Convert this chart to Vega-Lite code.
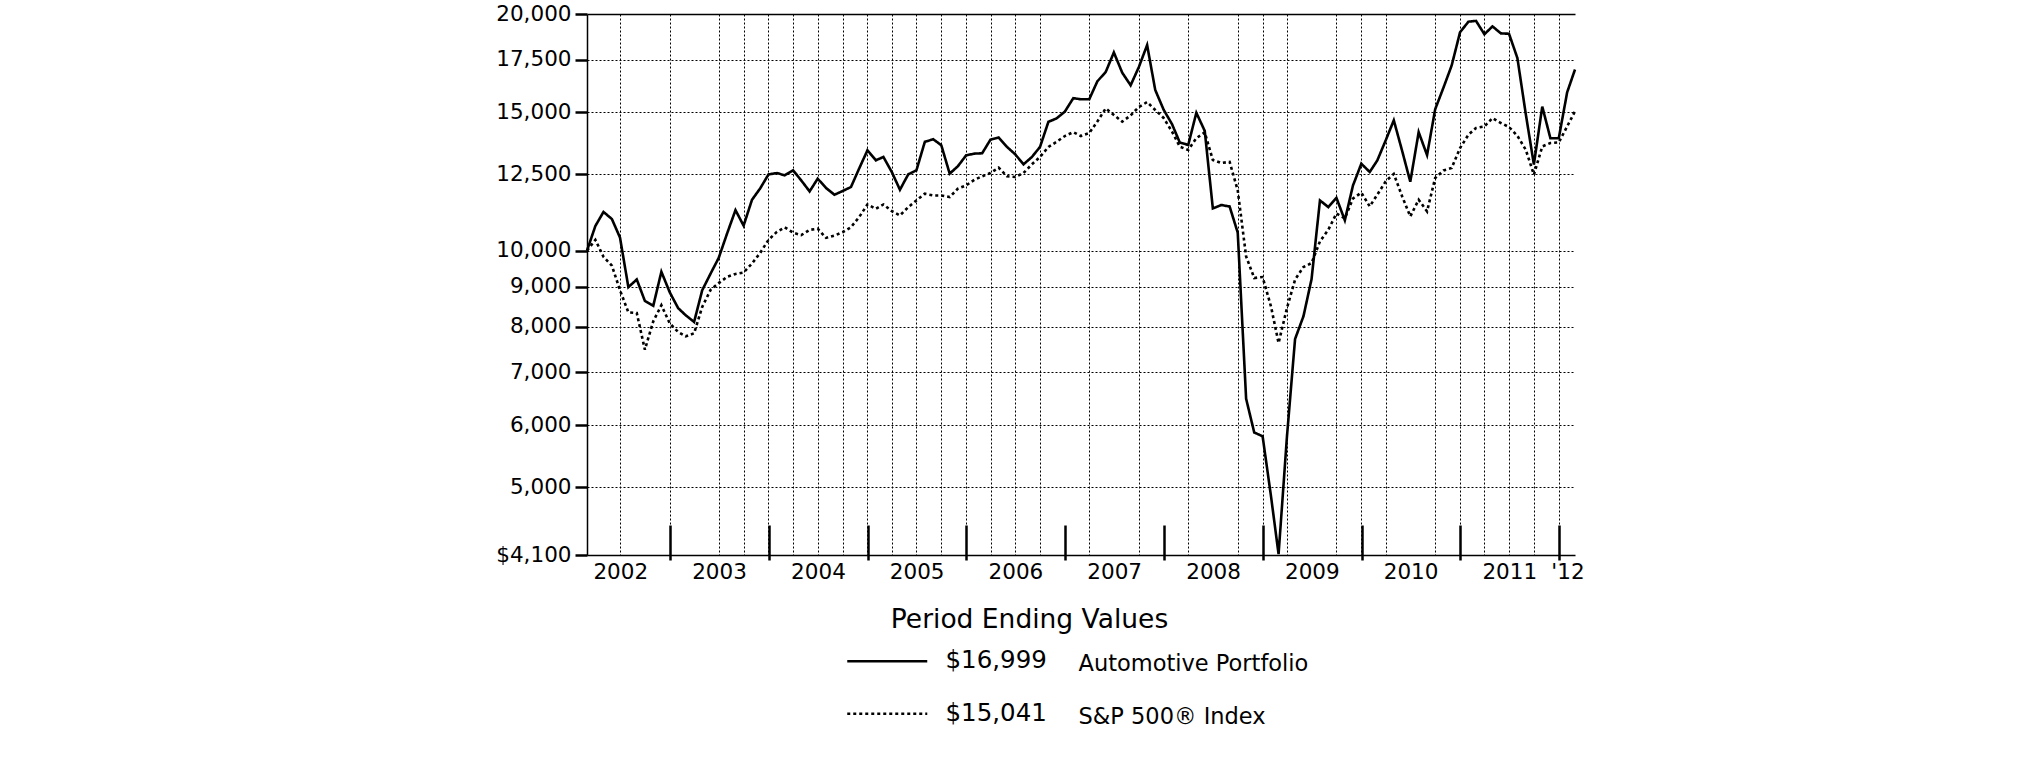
{
  "$schema": "https://vega.github.io/schema/vega-lite/v6.json",
  "width": 988,
  "height": 541,
  "autosize": {"type": "none"},
  "padding": {"left": 587, "top": 14, "right": 450, "bottom": 206},
  "background": "white",
  "config": {"view": {"stroke": null}, "font": "DejaVu Sans"},
  "data": {"values": [
    {"d":"2002-02-28","a":10000,"s":10000},{"d":"2002-03-31","a":10750,"s":10320},{"d":"2002-04-30","a":11200,"s":9820},{"d":"2002-05-31","a":10970,"s":9570},{"d":"2002-06-30","a":10390,"s":8905},
    {"d":"2002-07-31","a":8985,"s":8345},{"d":"2002-08-31","a":9190,"s":8330},{"d":"2002-09-30","a":8630,"s":7480},{"d":"2002-10-31","a":8508,"s":8130},{"d":"2002-11-30","a":9400,"s":8520},
    {"d":"2002-12-31","a":8850,"s":8080},{"d":"2003-01-31","a":8450,"s":7880},{"d":"2003-02-28","a":8275,"s":7780},{"d":"2003-03-31","a":8115,"s":7850},{"d":"2003-04-30","a":8905,"s":8480},
    {"d":"2003-05-31","a":9350,"s":8915},{"d":"2003-06-30","a":9790,"s":9092},{"d":"2003-07-31","a":10515,"s":9260},{"d":"2003-08-31","a":11260,"s":9340},{"d":"2003-09-30","a":10760,"s":9380},
    {"d":"2003-10-31","a":11605,"s":9630},{"d":"2003-11-30","a":11995,"s":9930},{"d":"2003-12-31","a":12500,"s":10320},{"d":"2004-01-31","a":12553,"s":10565},{"d":"2004-02-29","a":12467,"s":10707},
    {"d":"2004-03-31","a":12652,"s":10540},{"d":"2004-04-30","a":12285,"s":10464},{"d":"2004-05-31","a":11895,"s":10627},{"d":"2004-06-30","a":12346,"s":10663},{"d":"2004-07-31","a":12012,"s":10380},
    {"d":"2004-08-31","a":11779,"s":10451},{"d":"2004-09-30","a":11907,"s":10554},{"d":"2004-10-31","a":12048,"s":10711},{"d":"2004-11-30","a":12714,"s":11031},{"d":"2004-12-31","a":13418,"s":11448},
    {"d":"2005-01-31","a":13029,"s":11304},{"d":"2005-02-28","a":13157,"s":11448},{"d":"2005-03-31","a":12590,"s":11227},{"d":"2005-04-30","a":11953,"s":11085},{"d":"2005-05-31","a":12505,"s":11359},
    {"d":"2005-06-30","a":12652,"s":11584},{"d":"2005-07-31","a":13751,"s":11813},{"d":"2005-08-31","a":13859,"s":11755},{"d":"2005-09-30","a":13617,"s":11755},{"d":"2005-10-31","a":12529,"s":11698},
    {"d":"2005-11-30","a":12801,"s":11989},{"d":"2005-12-31","a":13222,"s":12107},{"d":"2006-01-31","a":13287,"s":12310},{"d":"2006-02-28","a":13300,"s":12431},{"d":"2006-03-31","a":13845,"s":12553},
    {"d":"2006-04-30","a":13927,"s":12751},{"d":"2006-05-31","a":13550,"s":12431},{"d":"2006-06-30","a":13262,"s":12406},{"d":"2006-07-31","a":12876,"s":12553},{"d":"2006-08-31","a":13157,"s":12876},
    {"d":"2006-09-30","a":13550,"s":13157},{"d":"2006-10-31","a":14584,"s":13550},{"d":"2006-11-30","a":14728,"s":13751},{"d":"2006-12-31","a":15030,"s":13990},{"d":"2007-01-31","a":15630,"s":14150},
    {"d":"2007-02-28","a":15580,"s":13990},{"d":"2007-03-31","a":15580,"s":14110},{"d":"2007-04-30","a":16420,"s":14600},{"d":"2007-05-31","a":16880,"s":15170},{"d":"2007-06-30","a":17870,"s":14880},
    {"d":"2007-07-31","a":16840,"s":14590},{"d":"2007-08-31","a":16230,"s":14860},{"d":"2007-09-30","a":17110,"s":15230},{"d":"2007-10-31","a":18260,"s":15450},{"d":"2007-11-30","a":16010,"s":15100},
    {"d":"2007-12-31","a":15110,"s":14750},{"d":"2008-01-31","a":14485,"s":14170},{"d":"2008-02-29","a":13720,"s":13560},{"d":"2008-03-31","a":13630,"s":13430},{"d":"2008-04-30","a":14975,"s":13900},
    {"d":"2008-05-31","a":14200,"s":14140},{"d":"2008-06-30","a":11315,"s":13040},{"d":"2008-07-31","a":11430,"s":12925},{"d":"2008-08-31","a":11380,"s":12970},{"d":"2008-09-30","a":10540,"s":11930},
    {"d":"2008-10-31","a":6480,"s":9830},{"d":"2008-11-30","a":5870,"s":9230},{"d":"2008-12-31","a":5805,"s":9255},{"d":"2009-01-31","a":4870,"s":8490},{"d":"2009-02-28","a":4110,"s":7630},
    {"d":"2009-03-31","a":5800,"s":8450},{"d":"2009-04-30","a":7720,"s":9184},{"d":"2009-05-31","a":8250,"s":9531},{"d":"2009-06-30","a":9200,"s":9643},{"d":"2009-07-31","a":11584,"s":10274},
    {"d":"2009-08-31","a":11360,"s":10632},{"d":"2009-09-30","a":11670,"s":11150},{"d":"2009-10-31","a":10930,"s":10990},{"d":"2009-11-30","a":12100,"s":11650},{"d":"2009-12-31","a":12900,"s":11850},
    {"d":"2010-01-31","a":12590,"s":11383},{"d":"2010-02-28","a":13024,"s":11779},{"d":"2010-03-31","a":13810,"s":12247},{"d":"2010-04-30","a":14650,"s":12520},{"d":"2010-05-31","a":13390,"s":11721},
    {"d":"2010-06-30","a":12235,"s":11053},{"d":"2010-07-31","a":14150,"s":11608},{"d":"2010-08-31","a":13230,"s":11218},{"d":"2010-09-30","a":15130,"s":12370},{"d":"2010-10-31","a":16130,"s":12648},
    {"d":"2010-11-30","a":17200,"s":12737},{"d":"2010-12-31","a":18960,"s":13505},{"d":"2011-01-31","a":19555,"s":14042},{"d":"2011-02-28","a":19600,"s":14320},{"d":"2011-03-31","a":18850,"s":14388},
    {"d":"2011-04-30","a":19286,"s":14746},{"d":"2011-05-31","a":18895,"s":14532},{"d":"2011-06-30","a":18877,"s":14362},{"d":"2011-07-31","a":17580,"s":13999},{"d":"2011-08-31","a":14920,"s":13438},
    {"d":"2011-09-30","a":12870,"s":12491},{"d":"2011-10-31","a":15250,"s":13568},{"d":"2011-11-30","a":13900,"s":13705},{"d":"2011-12-31","a":13900,"s":13729},{"d":"2012-01-31","a":15900,"s":14388},
    {"d":"2012-02-29","a":16999,"s":15041}
  ]},
  "transform": [
    {"fold": ["a", "s"], "as": ["k", "v"]},
    {"lookup": "k", "from": {"data": {"values": [
      {"k": "a", "series": "Automotive Portfolio", "ending": "$16,999"},
      {"k": "s", "series": "S&P 500® Index", "ending": "$15,041"}
    ]}, "key": "k", "fields": ["series", "ending"]}}
  ],
  "resolve": {"axis": {"x": "independent"}},
  "layer": [
    {
      "mark": {"type": "line", "strokeWidth": 2.6, "color": "black"},
      "encoding": {
        "x": {
          "field": "d", "type": "temporal",
          "scale": {"type": "utc", "nice": false, "domain": [{"year": 2002, "month": 2, "date": 28, "utc": true}, {"year": 2012, "month": 2, "date": 29, "utc": true}]},
          "axis": {
            "orient": "bottom",
            "values": [
              {"year": 2002, "month": 6, "date": 30, "utc": true}, {"year": 2002, "month": 12, "date": 31, "utc": true},
              {"year": 2003, "month": 6, "date": 30, "utc": true}, {"year": 2003, "month": 9, "date": 30, "utc": true}, {"year": 2003, "month": 12, "date": 31, "utc": true},
              {"year": 2004, "month": 3, "date": 31, "utc": true}, {"year": 2004, "month": 6, "date": 30, "utc": true}, {"year": 2004, "month": 9, "date": 30, "utc": true}, {"year": 2004, "month": 12, "date": 31, "utc": true},
              {"year": 2005, "month": 3, "date": 31, "utc": true}, {"year": 2005, "month": 6, "date": 30, "utc": true}, {"year": 2005, "month": 9, "date": 30, "utc": true}, {"year": 2005, "month": 12, "date": 31, "utc": true},
              {"year": 2006, "month": 3, "date": 31, "utc": true}, {"year": 2006, "month": 6, "date": 30, "utc": true}, {"year": 2006, "month": 9, "date": 30, "utc": true},
              {"year": 2007, "month": 3, "date": 31, "utc": true}, {"year": 2007, "month": 9, "date": 30, "utc": true},
              {"year": 2008, "month": 3, "date": 31, "utc": true}, {"year": 2008, "month": 9, "date": 30, "utc": true}, {"year": 2008, "month": 12, "date": 31, "utc": true},
              {"year": 2009, "month": 3, "date": 31, "utc": true}, {"year": 2009, "month": 9, "date": 30, "utc": true}, {"year": 2009, "month": 12, "date": 31, "utc": true},
              {"year": 2010, "month": 3, "date": 31, "utc": true}, {"year": 2010, "month": 9, "date": 30, "utc": true}, {"year": 2010, "month": 12, "date": 31, "utc": true},
              {"year": 2011, "month": 3, "date": 31, "utc": true}, {"year": 2011, "month": 6, "date": 30, "utc": true}, {"year": 2011, "month": 9, "date": 30, "utc": true}, {"year": 2011, "month": 12, "date": 31, "utc": true},
              {"year": 2002, "month": 7, "date": 1, "utc": true}, {"year": 2003, "month": 7, "date": 1, "utc": true}, {"year": 2004, "month": 7, "date": 1, "utc": true},
              {"year": 2005, "month": 7, "date": 1, "utc": true}, {"year": 2006, "month": 7, "date": 1, "utc": true}, {"year": 2007, "month": 7, "date": 1, "utc": true},
              {"year": 2008, "month": 7, "date": 1, "utc": true}, {"year": 2009, "month": 7, "date": 1, "utc": true}, {"year": 2010, "month": 7, "date": 1, "utc": true},
              {"year": 2011, "month": 7, "date": 1, "utc": true}, {"year": 2012, "month": 2, "date": 1, "utc": true}
            ],
            "labelExpr": "utcdate(datum.value) == 1 ? (utcyear(datum.value) == 2012 ? \"'12\" : '' + utcyear(datum.value)) : ''",
            "ticks": false,
            "grid": true,
            "gridColor": "black",
            "gridWidth": 1,
            "gridDash": [2, 2],
            "gridOpacity": {"condition": {"test": "utcdate(datum.value) == 1", "value": 0}, "value": 1},
            "domainColor": "black",
            "domainWidth": 1.5,
            "labelFont": "DejaVu Sans",
            "labelFontSize": 21.5,
            "labelColor": "black",
            "labelPadding": 6,
            "labelOverlap": false,
            "labelFlush": false,
            "title": "Period Ending Values",
            "titleFont": "DejaVu Sans",
            "titleFontSize": 26.5,
            "titleFontWeight": "normal",
            "titleColor": "black",
            "titleX": 442,
            "titleAlign": "center",
            "titleBaseline": "top",
            "titlePadding": 24
          }
        },
        "y": {
          "field": "v", "type": "quantitative",
          "scale": {"type": "log", "domain": [4100, 20000], "nice": false},
          "axis": {
            "values": [4100, 5000, 6000, 7000, 8000, 9000, 10000, 12500, 15000, 17500, 20000],
            "labelExpr": "datum.value == 4100 ? '$4,100' : format(datum.value, ',')",
            "tickSize": 12,
            "tickWidth": 2.5,
            "tickColor": "black",
            "domainColor": "black",
            "domainWidth": 1.5,
            "grid": true,
            "gridColor": "black",
            "gridDash": {"condition": {"test": "datum.value == 20000", "value": []}, "value": [2, 2]},
            "gridWidth": {"condition": {"test": "datum.value == 20000", "value": 1.5}, "value": 1},
            "labelFont": "DejaVu Sans",
            "labelFontSize": 21.5,
            "labelColor": "black",
            "labelPadding": 4,
            "labelOverlap": false,
            "labelFlush": false,
            "title": null
          }
        },
        "color": {
          "field": "series", "type": "nominal",
          "scale": {"domain": ["Automotive Portfolio", "S&P 500® Index"], "range": ["black", "black"]},
          "legend": {
            "orient": "none", "legendX": 465, "legendY": 639,
            "title": null,
            "symbolSize": 0, "symbolOpacity": 0,
            "labelFont": "DejaVu Sans", "labelFontSize": 22.5, "labelColor": "black",
            "labelOffset": 4, "labelLimit": 500, "rowPadding": 29.5
          }
        },
        "strokeDash": {
          "field": "ending", "type": "nominal",
          "scale": {"domain": ["$16,999", "$15,041"], "range": [[1, 0], [3, 3]]},
          "legend": {
            "orient": "none", "legendX": 288, "legendY": 635,
            "title": null,
            "symbolType": "M-4,0H4", "symbolSize": 400,
            "symbolStrokeWidth": 2.5, "symbolStrokeColor": "black", "symbolFillColor": "transparent",
            "labelFont": "DejaVu Sans", "labelFontSize": 24.5, "labelColor": "black",
            "labelOffset": 46, "labelLimit": 500, "rowPadding": 27.5
          }
        }
      }
    },
    {
      "mark": {"type": "rule", "opacity": 0},
      "encoding": {
        "x": {
          "field": "d", "type": "temporal",
          "scale": {"type": "utc", "nice": false, "domain": [{"year": 2002, "month": 2, "date": 28, "utc": true}, {"year": 2012, "month": 2, "date": 29, "utc": true}]},
          "axis": {
            "orient": "bottom",
            "values": [
              {"year": 2003, "month": 1, "date": 1, "utc": true}, {"year": 2004, "month": 1, "date": 1, "utc": true}, {"year": 2005, "month": 1, "date": 1, "utc": true},
              {"year": 2006, "month": 1, "date": 1, "utc": true}, {"year": 2007, "month": 1, "date": 1, "utc": true}, {"year": 2008, "month": 1, "date": 1, "utc": true},
              {"year": 2009, "month": 1, "date": 1, "utc": true}, {"year": 2010, "month": 1, "date": 1, "utc": true}, {"year": 2011, "month": 1, "date": 1, "utc": true},
              {"year": 2012, "month": 1, "date": 1, "utc": true}
            ],
            "labels": false, "grid": false, "domain": false,
            "ticks": true, "tickSize": -35, "tickWidth": 2.5, "tickColor": "black",
            "offset": 5, "title": null, "zindex": 1
          }
        }
      }
    }
  ]
}
